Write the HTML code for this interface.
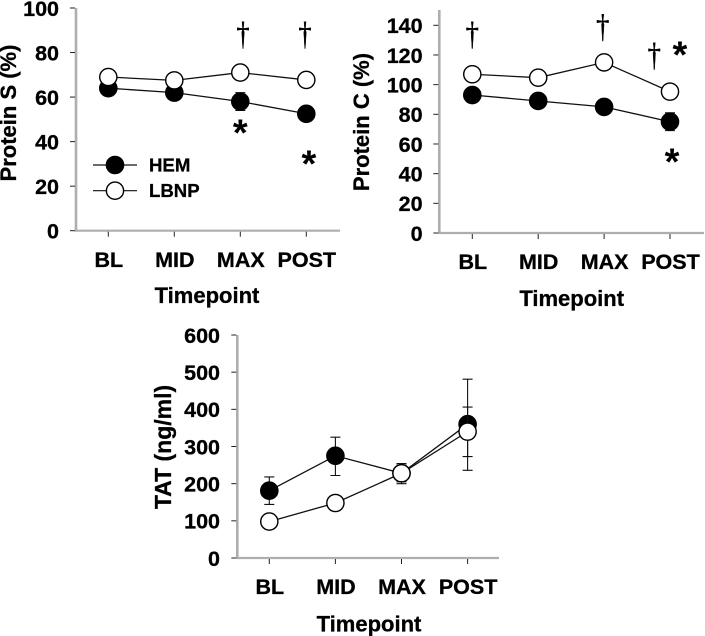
<!DOCTYPE html>
<html lang="en">
<head>
<meta charset="utf-8">
<title>Protein S, Protein C and TAT by timepoint</title>
<style>
html,body{margin:0;padding:0;background:#fff;}
svg{display:block;font-family:"Liberation Sans",Arial,sans-serif;font-weight:bold;fill:#000;}
</style>
</head>
<body>
<svg id="figure" xmlns="http://www.w3.org/2000/svg" width="705" height="636" viewBox="0 0 705 636"></svg>
<script>
const categories = ['BL', 'MID', 'MAX', 'POST'];

const proteinSTicks = [0, 20, 40, 60, 80, 100];
const proteinSHem = [64, 62, 58, 52.5];
const proteinSLbnp = [69, 67.5, 71, 67.7];
const proteinSHemLow = [62, 60, 54, 50.5];
const proteinSHemHigh = [66, 64, 62, 54.5];
const proteinSLbnpLow = [67, 65.5, 69, 65.7];
const proteinSLbnpHigh = [71, 69.5, 73, 69.7];
const proteinSDaggers = [[2.04, 83.5], [2.98, 83.5]];
const proteinSStars = [[2.0, 46], [3.04, 32]];

const proteinCTicks = [0, 20, 40, 60, 80, 100, 120, 140];
const proteinCHem = [93, 89, 85, 75];
const proteinCLbnp = [107, 104.7, 115, 95.3];
const proteinCHemLow = [91, 87, 83, 69];
const proteinCHemHigh = [95, 91, 87, 81];
const proteinCLbnpLow = [105, 102.7, 113, 93.3];
const proteinCLbnpHigh = [109, 106.7, 117, 97.3];
const proteinCDaggers = [[0, 127], [1.98, 132], [2.76, 113]];
const proteinCStars = [[3.15, 123], [3.03, 51]];

const tatTicks = [0, 100, 200, 300, 400, 500, 600];
const tatHem = [181, 275, 228, 360];
const tatLbnp = [98, 148, 228, 340];
const tatHemLow = [144, 222, 200, 273];
const tatHemHigh = [218, 325, 254, 406];
const tatLbnpLow = [90, 140, 205, 236];
const tatLbnpHigh = [106, 156, 250, 481];

const svgNS = 'http://www.w3.org/2000/svg';
const figure = document.getElementById('figure');
const heavyText = 'stroke:#000;stroke-width:0.3px';

function make(parent, tag, attrs, text) {
  const el = document.createElementNS(svgNS, tag);
  for (const k in attrs) el.setAttribute(k, attrs[k]);
  if (text !== undefined) el.textContent = text;
  parent.appendChild(el);
  return el;
}

function drawSeries(group, name, xf, yf, values, low, high, filled) {
  const seriesGroup = make(group, 'g', {});
  
  
  values.forEach(function (v, i) {
    const x = xf(i);
    const bar = make(seriesGroup, 'path', {
      d: 'M' + x + ' ' + yf(low[i]) + 'V' + yf(high[i]) +
         'M' + (x - 5) + ' ' + yf(low[i]) + 'h10M' + (x - 5) + ' ' + yf(high[i]) + 'h10',
      fill: 'none', stroke: '#111', 'stroke-width': 1.1
    });
    
    
  });
  const line = make(seriesGroup, 'polyline', {
    points: values.map(function (v, i) { return xf(i) + ',' + yf(v); }).join(' '),
    fill: 'none', stroke: '#111', 'stroke-width': 1.3
  });
  
  
  values.forEach(function (v, i) {
    const point = make(seriesGroup, 'circle', {
      cx: xf(i), cy: yf(v), r: 8.6,
      fill: filled ? '#000' : '#fff', stroke: '#000', 'stroke-width': 1.4
    });
    
    
  });
}

function drawChart(cfg) {
  const group = make(figure, 'g', {});
  
  

  const yf = function (v) { return cfg.y0 - (v / cfg.yMax) * (cfg.y0 - cfg.yTop); };
  const xf = function (i) { return cfg.x0 + i * cfg.xStep; };

  const yAxis = make(group, 'line', { x1: cfg.ax, x2: cfg.ax, y1: cfg.axisTop, y2: cfg.y0 + 1, stroke: '#aeaeae', 'stroke-width': 2.6 });
  
  
  const xAxis = make(group, 'line', { x1: cfg.ax, x2: cfg.axisEnd, y1: cfg.y0, y2: cfg.y0, stroke: '#aeaeae', 'stroke-width': 2.2 });
  
  

  cfg.ticks.forEach(function (t) {
    const tick = make(group, 'line', { x1: cfg.ax - 6, x2: cfg.ax - 1, y1: yf(t), y2: yf(t), stroke: '#222', 'stroke-width': 1 });
    
    
    const label = make(group, 'text', { x: cfg.labelRight, y: yf(t) + 7.8, 'text-anchor': 'end', 'font-size': 21.5, style: heavyText }, String(t));
    
    
  });

  categories.forEach(function (c, i) {
    const tick = make(group, 'line', { x1: xf(i), x2: xf(i), y1: cfg.y0 + 1, y2: cfg.y0 + 6, stroke: '#222', 'stroke-width': 1 });
    
    
    const label = make(group, 'text', { x: xf(i) + 0.5, y: cfg.catBase, 'text-anchor': 'middle', 'font-size': 21.5, style: heavyText }, c);
    
    
  });

  const xTitle = make(group, 'text', { x: cfg.xTitleX, y: cfg.xTitleBase, 'text-anchor': 'middle', 'font-size': 22, style: heavyText }, 'Timepoint');
  
  

  const yTitle = make(group, 'text', {
    transform: 'translate(' + cfg.yTitleX + ' ' + cfg.yTitleY + ') rotate(-90)',
    'text-anchor': 'middle', 'font-size': cfg.yTitleSize, style: heavyText
  }, cfg.yTitle);
  
  

  drawSeries(group, cfg.name + '-hem', xf, yf, cfg.hem, cfg.hemLow, cfg.hemHigh, true);
  drawSeries(group, cfg.name + '-lbnp', xf, yf, cfg.lbnp, cfg.lbnpLow, cfg.lbnpHigh, false);

  (cfg.daggers || []).forEach(function (d) {
    const x = xf(d[0]);
    const y = yf(d[1]);
    const dagger = make(group, 'text', {
      transform: 'translate(' + x + ' ' + y + ') scale(0.78 0.97)',
      'text-anchor': 'middle', 'font-size': 34, 'font-weight': 'normal',
      style: 'font-family:"Liberation Serif",serif;stroke:#000;stroke-width:0.5px'
    }, '†');
    
    
  });

  (cfg.stars || []).forEach(function (s) {
    const star = make(group, 'text', {
      x: xf(s[0]), y: yf(s[1]) + 17, 'text-anchor': 'middle', 'font-size': 38
    }, '*');
    
    
  });

  return group;
}

const chartS = drawChart({
  name: 'protein-s', ticks: proteinSTicks, yMax: 100, y0: 230.7, yTop: 8, axisTop: 8,
  ax: 76, axisEnd: 340, x0: 108.3, xStep: 66, labelRight: 59,
  catBase: 267, xTitleX: 207, xTitleBase: 303,
  yTitle: 'Protein S (%)', yTitleX: 16, yTitleY: 113, yTitleSize: 22,
  hem: proteinSHem, lbnp: proteinSLbnp,
  hemLow: proteinSHemLow, hemHigh: proteinSHemHigh,
  lbnpLow: proteinSLbnpLow, lbnpHigh: proteinSLbnpHigh,
  daggers: proteinSDaggers, stars: proteinSStars
});

drawChart({
  name: 'protein-c', ticks: proteinCTicks, yMax: 140, y0: 233, yTop: 25.3, axisTop: 10,
  ax: 439.3, axisEnd: 704, x0: 472.3, xStep: 65.9, labelRight: 422.6,
  catBase: 269, xTitleX: 571.7, xTitleBase: 306,
  yTitle: 'Protein C (%)', yTitleX: 369, yTitleY: 122, yTitleSize: 22,
  hem: proteinCHem, lbnp: proteinCLbnp,
  hemLow: proteinCHemLow, hemHigh: proteinCHemHigh,
  lbnpLow: proteinCLbnpLow, lbnpHigh: proteinCLbnpHigh,
  daggers: proteinCDaggers, stars: proteinCStars
});

drawChart({
  name: 'tat', ticks: tatTicks, yMax: 600, y0: 558, yTop: 335, axisTop: 335,
  ax: 237.3, axisEnd: 499, x0: 269.3, xStep: 66.1, labelRight: 220,
  catBase: 594, xTitleX: 369, xTitleBase: 631.7,
  yTitle: 'TAT (ng/ml)', yTitleX: 171, yTitleY: 447, yTitleSize: 23,
  hem: tatHem, lbnp: tatLbnp,
  hemLow: tatHemLow, hemHigh: tatHemHigh,
  lbnpLow: tatLbnpLow, lbnpHigh: tatLbnpHigh
});

const legend = make(chartS, 'g', {});


[['HEM', 165, '#000'], ['LBNP', 190.7, '#fff']].forEach(function (entry) {
  const row = make(legend, 'g', {});
  
  
  make(row, 'line', { x1: 93, x2: 137, y1: entry[1], y2: entry[1], stroke: '#111', 'stroke-width': 1.2 });
  make(row, 'circle', { cx: 115, cy: entry[1], r: 8.6, fill: entry[2], stroke: '#000', 'stroke-width': 1.4 });
  make(row, 'text', { x: 149, y: entry[1] + 6.5, 'font-size': 18.6, style: heavyText }, entry[0]);
});
</script>
</body>
</html>
